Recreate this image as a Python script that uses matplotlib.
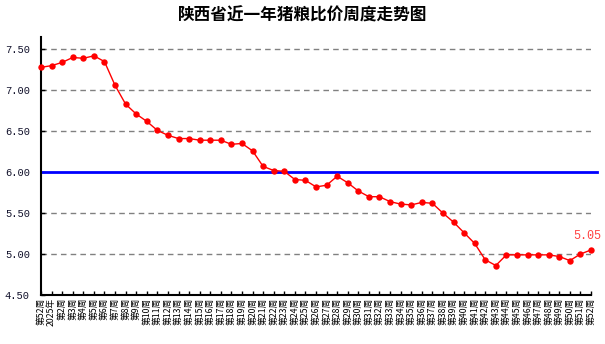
import numpy as np
import matplotlib.pyplot as plt

plt.rcParams['font.family'] = ['Noto Sans CJK SC', 'DejaVu Sans']

# 周度猪粮比价（2024年第52周 至 2025年第52周）
weeks = ['第52周', '2025年'] + ['第%d周' % i for i in range(2, 53)]
ratio = [7.28, 7.30, 7.34, 7.40, 7.39, 7.42, 7.35, 7.06, 6.83, 6.71,
         6.62, 6.51, 6.45, 6.41, 6.41, 6.39, 6.39, 6.39, 6.34, 6.35,
         6.26, 6.07, 6.02, 6.01, 5.91, 5.90, 5.82, 5.84, 5.95, 5.87,
         5.77, 5.70, 5.70, 5.64, 5.61, 5.60, 5.63, 5.62, 5.50, 5.39,
         5.26, 5.13, 4.93, 4.86, 4.99, 4.99, 4.99, 4.99, 4.99, 4.97,
         4.92, 5.00, 5.05]
baseline = 6.00
yticks = [4.50, 5.00, 5.50, 6.00, 6.50, 7.00, 7.50]

fig = plt.figure(figsize=(6.05, 3.44), dpi=100)
ax = fig.add_axes([41 / 605, 49 / 344, 550 / 605, 258 / 344])

x = np.arange(len(ratio))

# 网格线（6.00 处由蓝线代替）
for v in yticks:
    if v != baseline and v != yticks[0]:
        ax.axhline(v, color='#808080', lw=1, ls=(0, (4, 3)), zorder=1)
ax.plot([0, len(ratio) - 1 + 0.6], [baseline, baseline], color='#0000ff',
        lw=2, zorder=2, clip_on=False)

ax.plot(x, ratio, color='#ff0000', lw=1, marker='o', markersize=4.6,
        markeredgewidth=0, zorder=3, clip_on=False)

# 末值标注
ax.annotate('%.2f' % ratio[-1], (x[-1], ratio[-1]), xytext=(-3, 6),
            textcoords='offset points', ha='center', va='bottom',
            color='#ff4040', fontsize=8.5, family='Liberation Mono')

ax.set_xlim(0, len(ratio) - 1)
ax.set_ylim(4.5, 7.65)
ax.set_yticks(yticks)
ax.set_yticklabels(['%.2f' % v for v in yticks], family='Liberation Mono',
                   fontsize=7.5, color='#10102a')
ax.set_xticks(x)
ax.set_xticklabels(weeks, rotation=90, fontsize=6.3, va='top', ha='center')
ax.tick_params(axis='x', direction='in', length=3, width=1, pad=2)
ax.tick_params(axis='y', direction='in', length=3, width=1, pad=8)

for s in ['top', 'right']:
    ax.spines[s].set_visible(False)
for s in ['left', 'bottom']:
    ax.spines[s].set_linewidth(1.5)

fig.text(0.5, 0.955, '陕西省近一年猪粮比价周度走势图', ha='center', va='center',
         fontsize=12, fontweight='bold')

fig.savefig('out.png', dpi=100)
